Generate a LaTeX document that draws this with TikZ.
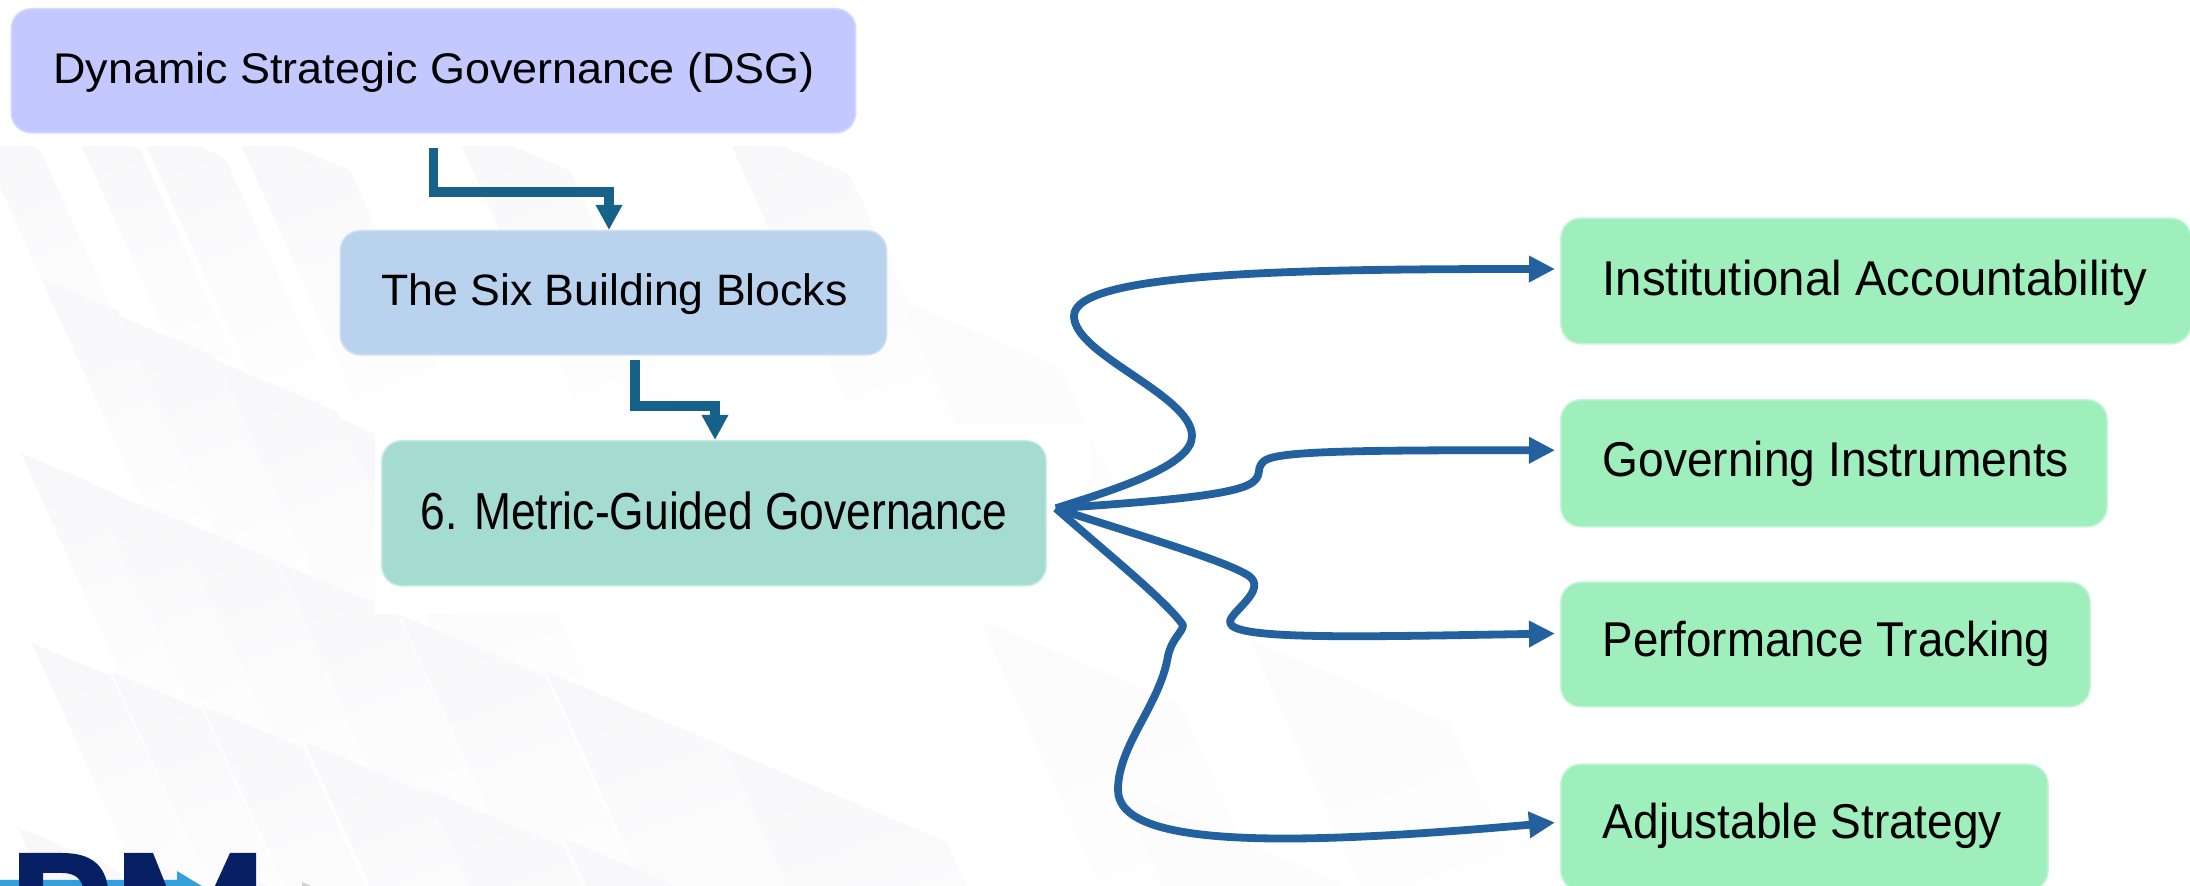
\documentclass[tikz,border=0pt]{standalone}
\usepackage{fontspec}
\setmainfont{Liberation Sans}
\usetikzlibrary{arrows.meta,calc}
\definecolor{cdsg}{HTML}{C3C9FF}
\definecolor{cblocks}{HTML}{B9D2EE}
\definecolor{cmetric}{HTML}{A4DCD2}
\definecolor{cleaf}{HTML}{9FEFBD}
\definecolor{cstep}{HTML}{17628A}
\definecolor{ccurve}{HTML}{23609E}
\definecolor{cnavy}{HTML}{062063}
\definecolor{csky}{HTML}{359FDC}
\definecolor{cfacet}{HTML}{F8F8FA}
\definecolor{cfacetfar}{HTML}{FBFBFC}
\newcommand\boxtext[5]{\makebox[#1cm][l]{\hspace*{#2cm}\resizebox{#3cm}{\height}{\fontsize{#4pt}{#4pt}\selectfont #5}}}
\tikzset{
  flowbox/.style={rounded corners=0.2cm,inner sep=0pt,anchor=north west,text=black,line width=0.015cm},
  stepline/.style={draw=cstep,line width=0.095cm,-{Triangle[length=0.25cm,width=0.25cm]}},
  curveline/.style={draw=ccurve,line width=0.078cm,line join=round,-{Triangle[length=0.26cm,width=0.25cm]}},
  facet/.style={shading=axis,top color=cfacet,bottom color=white,shading angle=20,draw=none},
  farfacet/.style={shading=axis,top color=cfacetfar,bottom color=white,shading angle=20,draw=none},
}
\begin{document}
\begin{tikzpicture}[x=0.01cm,y=-0.01cm]
\useasboundingbox (0,0) rectangle (2190,886);
\begin{scope}
\clip (0,0) rectangle (2190,886);
\fill[white] (0,0) rectangle (2190,886);
% background facets, left to right, top to bottom
\foreach \tx/\ty/\w in {
  -30/120/70, 70/120/70, 135/120/90, 230/120/120, 450/120/120, 720/120/130,
  42/279/75, 119/316/95, 217/361/120, 340/419/160,
  21/453/70, 91/484/85, 175/518/100, 277/562/120, 400/615/145, 547/672/180, 726/749/220,
  32/643/80, 112/672/90, 203/706/100, 305/742/120, 424/788/140, 565/839/170,
  17/827/100, 120/850/110, 230/870/120}{
  \path[facet] (\tx,\ty) -- ++(\w,0.42*\w) -- ++(135,300) -- ++(-\w,-0.42*\w) -- cycle;
}
\foreach \tx/\ty/\w in {900/300/160, 980/620/200, 1250/640/200, 1120/790/220}{
  \path[farfacet] (\tx,\ty) -- ++(\w,0.42*\w) -- ++(135,300) -- ++(-\w,-0.42*\w) -- cycle;
}
% halos
\fill[white] (0,0) rectangle (1010,146);
\fill[white] (375,424) rectangle (1090,614);
\fill[white] (1556,0) rectangle (2190,886);
% logo
\fill[csky] (0,880) -- (177,880) -- (177,871) -- (205,888) -- (0,888) -- cycle;
\fill[cnavy] (19,853) -- (62,853) .. controls (92,853) and (105,866) .. (108,888) -- (83,888) .. controls (81,878) and (74,873) .. (62,873) -- (43,873) -- (43,888) -- (19,888) -- cycle;
\fill[cnavy] (124,853) -- (153,853) -- (167,888) -- (124,888) -- cycle;
\fill[cnavy] (230,853) -- (256,853) -- (256,888) -- (214,888) -- cycle;
\fill[gray!35] (302,882) -- (316,888) -- (302,888) -- cycle;
\end{scope}
% boxes
\node[flowbox,fill=cdsg,draw=cdsg!70!white] (dsg) at (10.5,8) [text height=0.745cm,text depth=0.495cm]
  {\boxtext{8.44}{0.42}{7.61}{12.2}{Dynamic Strategic Governance (DSG)}};
\node[flowbox,fill=cblocks,draw=cblocks!70!white] (blocks) at (339.5,230) [text height=0.745cm,text depth=0.495cm]
  {\boxtext{5.46}{0.41}{4.66}{12.5}{The Six Building Blocks}};
\node[flowbox,fill=cmetric,draw=cmetric!60!white] (metric) at (381,440) [text height=0.89cm,text depth=0.56cm]
  {\boxtext{6.64}{0.39}{5.86}{14.8}{6. Metric-Guided Governance}};
\node[flowbox,fill=cleaf,draw=cleaf!60!white] (inst) at (1560,217.5) [text height=0.775cm,text depth=0.48cm]
  {\boxtext{6.30}{0.42}{5.44}{13.9}{Institutional Accountability}};
\node[flowbox,fill=cleaf,draw=cleaf!60!white] (gov) at (1560,399) [text height=0.77cm,text depth=0.50cm]
  {\boxtext{5.46}{0.42}{4.66}{13.9}{Governing Instruments}};
\node[flowbox,fill=cleaf,draw=cleaf!60!white] (perf) at (1560,581.5) [text height=0.745cm,text depth=0.50cm]
  {\boxtext{5.29}{0.42}{4.47}{13.9}{Performance Tracking}};
\node[flowbox,fill=cleaf,draw=cleaf!60!white] (adj) at (1560,763.5) [text height=0.74cm,text depth=0.525cm]
  {\boxtext{4.87}{0.42}{3.99}{13.9}{Adjustable Strategy}};
% step connectors
\coordinate (e1) at (609,192);
\coordinate (s2) at (635,360);
\coordinate (e2) at (715,406);
\draw[stepline,shorten <=0.14cm] (dsg.south) -- (dsg.south |- e1) -- (e1) -- (e1 |- blocks.north);
\draw[stepline] (s2) -- (s2 |- e2) -- (e2) -- (e2 |- metric.north);
% curved connectors
\coordinate (src) at ($(metric.east)+(9,-5)$);
\coordinate (tA) at ($(inst.west)+(-5,-12)$);
\coordinate (tB) at ($(gov.west)+(-5,-13)$);
\coordinate (tC) at ($(perf.west)+(-5,-11)$);
\coordinate (tD) at ($(adj.west)+(-5,-5)$);
\draw[curveline] (src) .. controls (1120,488) and (1192,465) .. (1192,436)
  .. controls (1192,395) and (1074,355) .. (1074,316)
  .. controls (1074,272) and (1300,269) .. (tA);
\draw[curveline] (src) .. controls (1150,502) and (1225,496) .. (1248,485)
  .. controls (1264,477) and (1255,470) .. (1263,462)
  .. controls (1272,452) and (1330,450) .. (tB);
\draw[curveline] (src) .. controls (1130,533) and (1225,560) .. (1249,576)
  .. controls (1268,590) and (1230,612) .. (1230,622)
  .. controls (1230,640) and (1350,637) .. (tC);
\draw[curveline] (src) .. controls (1110,556) and (1165,600) .. (1183,625)
  .. controls (1183,632) and (1172,638) .. (1168,656)
  .. controls (1160,705) and (1118,745) .. (1118,790)
  .. controls (1118,850) and (1300,845) .. (tD);
\end{tikzpicture}
\end{document}
